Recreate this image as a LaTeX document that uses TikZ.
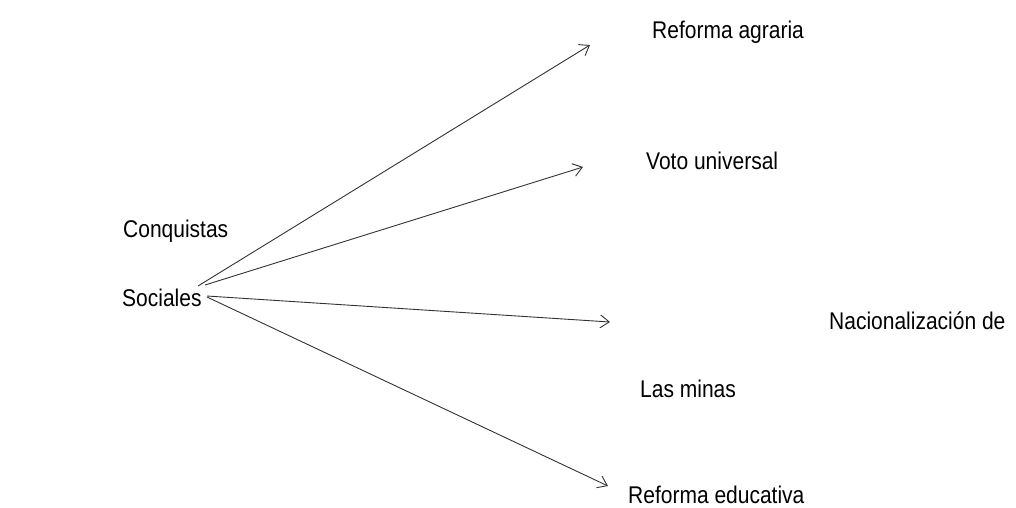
\documentclass[tikz,border=0pt]{standalone}
\usepackage{fontspec}
\setmainfont{Liberation Sans}
\usetikzlibrary{arrows.meta}
\newcommand{\tallt}[1]{\scalebox{1}[1.15]{#1}}
\begin{document}
\begin{tikzpicture}[x=1pt,y=-1pt,
  lbl/.style={anchor=base west,inner sep=0pt,font=\fontsize{21}{25}\selectfont},
  conn/.style={line width=0.9pt,draw=black!80,-{Straight Barb[length=9pt,width=13pt,line width=0.9pt]}}]
\useasboundingbox (0,0) rectangle (1016,507);
\node[lbl] (ra) at (652,38) {\tallt{Reforma agraria}};
\node[lbl] (vu) at (646,169) {\tallt{Voto universal}};
\node[lbl] (cq) at (123,237) {\tallt{Conquistas}};
\node[lbl] (so) at (122,306) {\tallt{Sociales}};
\node[lbl] (na) at (829,329) {\tallt{Nacionalización de}};
\node[lbl] (lm) at (640,397) {\tallt{Las minas}};
\node[lbl] (re) at (628,503) {\tallt{Reforma educativa}};
\coordinate (s1) at (198,286);
\coordinate (s2) at (205,285);
\coordinate (s3) at (207,296);
\coordinate (s4) at (207,297);
\coordinate (e1) at (590,45);
\coordinate (e2) at (583,167);
\coordinate (e3) at (610,322);
\coordinate (e4) at (608,486);
\draw[conn] (s1) -- (e1);
\draw[conn] (s2) -- (e2);
\draw[conn] (s3) -- (e3);
\draw[conn] (s4) -- (e4);
\end{tikzpicture}
\end{document}
